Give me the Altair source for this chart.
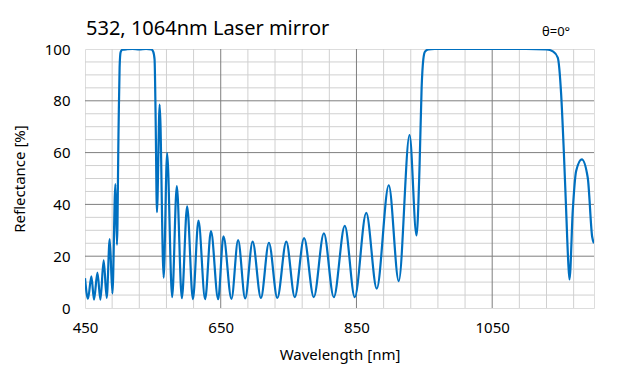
import altair as alt
import pandas as pd

# Wavelength [nm] and reflectance [%]
wavelength = [
    450, 454.4, 459.4, 463.3, 468.3, 472.7, 477.5, 482, 486.4, 490.4,
    494.8, 497.1, 499.5, 501, 502.5, 505, 512, 520, 530, 540, 548, 550.5,
    552.5, 554, 556, 560, 565.9, 571, 578.4, 585.3, 592.7, 600.5, 609,
    617.2, 627, 635.6, 646.2, 654, 665.8, 675.6, 686, 697, 709.2, 721,
    733.4, 746.6, 759.1, 772.8, 787.1, 802, 816.6, 832.8, 847.5, 864.4,
    879.9, 897.6, 912.3, 928.2, 938.5, 943, 946, 948.5, 951, 956, 965,
    1000, 1050, 1100, 1130, 1140, 1146.6, 1151.6, 1155.5, 1159, 1162,
    1163.9, 1168.7, 1173.7, 1182, 1190.8, 1197.3, 1200
]
reflectance = [
    11.5, 3.6, 12.2, 3.2, 13.7, 3.2, 18.4, 3.9, 26.6, 5.6,
    47.8, 24.4, 70, 93, 98.8, 99.7, 99.9, 100, 99.8, 100, 99.8, 99,
    96, 75, 37, 78.5, 11.7, 59.8, 4.2, 47.1, 3.8, 39.2, 3.4,
    33.7, 3.4, 29.7, 3.4, 27.7, 3.5, 26.2, 3.7, 25.6, 3.9, 25.2,
    3.9, 25.6, 4.2, 27.0, 4.2, 28.8, 4.2, 31.7, 4.2, 36.7,
    7.5, 47.4, 10.4, 66.8, 28, 55, 85, 96, 99, 99.8, 100,
    100, 100, 100, 99.8, 99, 96.7, 82.5, 60.6, 37.5, 18,
    11, 37.5, 52.9, 57.4, 50.3, 27.5, 25
]

x_major = [650, 850, 1050]
x_minor = [490, 530, 570, 610, 690, 730, 770, 810, 890, 930, 970, 1010, 1090, 1130, 1170]
y_major = [20, 40, 60, 80]
y_minor = [5, 10, 15, 25, 30, 35, 45, 50, 55, 65, 70, 75, 85, 90, 95]
x_labels = [450, 650, 850, 1050]
y_labels = [0, 20, 40, 60, 80, 100]

FONT = "Noto Sans"
X_TITLE = "Wavelength [nm]"
Y_TITLE = "Reflectance [%]"

xscale = alt.Scale(domain=[450, 1200], nice=False, zero=False)
yscale = alt.Scale(domain=[0, 100], nice=False)

xaxis = alt.Axis(values=x_labels, format="d", ticks=False, domain=False, grid=False,
                 labelFont=FONT, labelFontSize=15, labelColor="#000000",
                 labelPadding=12, titleFont=FONT, titleFontSize=15,
                 titleFontWeight="normal", titleColor="#000000",
                 titlePadding=12, labelFlush=False)
yaxis = alt.Axis(values=y_labels, format="d", ticks=False, domain=False, grid=False,
                 labelFont=FONT, labelFontSize=15, labelColor="#000000",
                 labelPadding=15, titleFont=FONT, titleFontSize=15,
                 titleFontWeight="normal", titleColor="#000000",
                 titlePadding=17, labelFlush=False)

df = pd.DataFrame({"wl": wavelength, "r": reflectance})

def X(field):
    return alt.X(field, type="quantitative", scale=xscale, axis=xaxis, title=X_TITLE)

def Y(field):
    return alt.Y(field, type="quantitative", scale=yscale, axis=yaxis, title=Y_TITLE)

minor_x = alt.Chart(pd.DataFrame({"v": x_minor})).mark_rule(
    color="#D0D0D0", strokeWidth=1).encode(x=X("v"))
minor_y = alt.Chart(pd.DataFrame({"v": y_minor})).mark_rule(
    color="#D0D0D0", strokeWidth=1).encode(y=Y("v"))
major_x = alt.Chart(pd.DataFrame({"v": x_major})).mark_rule(
    color="#7F7F7F", strokeWidth=1).encode(x=X("v"))
major_y = alt.Chart(pd.DataFrame({"v": y_major})).mark_rule(
    color="#7F7F7F", strokeWidth=1).encode(y=Y("v"))

line = alt.Chart(df).mark_line(
    color="#0070C0", strokeWidth=2.2, interpolate="monotone", clip=True
).encode(x=X("wl"), y=Y("r"))

texts = pd.DataFrame({"t": ["532, 1064nm Laser mirror"]})
title_mark = alt.Chart(texts).mark_text(
    font=FONT, fontSize=20, color="#000000", align="left", baseline="alphabetic"
).encode(text="t:N", x=alt.value(1), y=alt.value(-14))

angle = alt.Chart(pd.DataFrame({"t": ["θ=0°"]})).mark_text(
    font=FONT, fontSize=13, color="#000000", align="left", baseline="alphabetic"
).encode(text="t:N", x=alt.value(457), y=alt.value(-13))

chart = alt.layer(minor_x, minor_y, major_x, major_y, line, title_mark, angle).properties(
    width=509, height=259,
    padding={"left": 77, "top": 41, "right": 22, "bottom": 58},
    autosize=alt.AutoSizeParams(type="none"),
).configure_view(stroke="#000000", strokeWidth=1.5).configure(background="white")

chart.save("out.html", embed_options={"renderer": "svg", "actions": False})
